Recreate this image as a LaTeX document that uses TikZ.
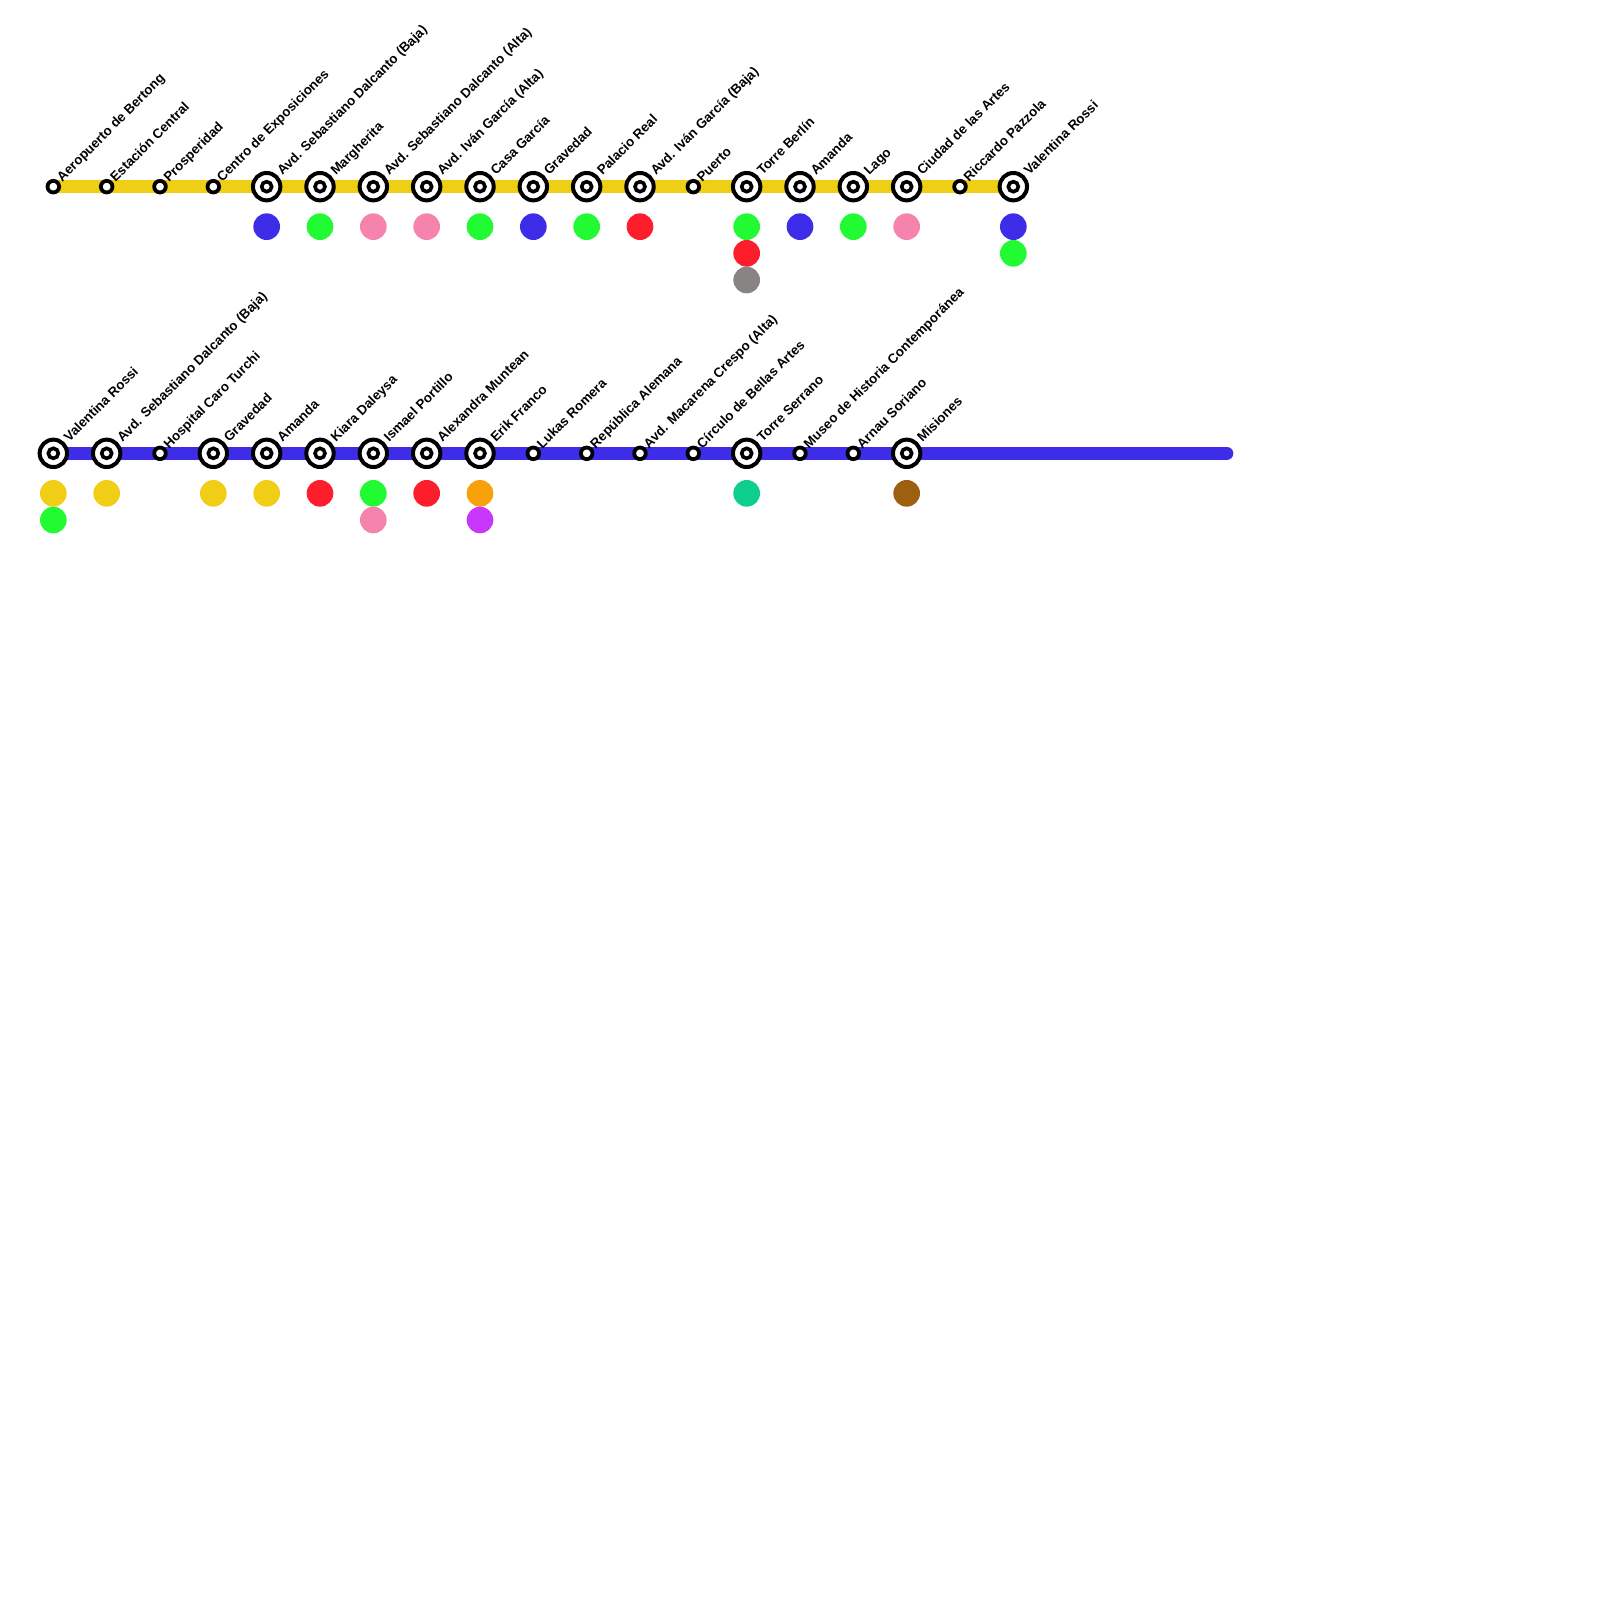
\documentclass[tikz,border=0pt]{standalone}
\usepackage{fontspec}
\setmainfont{Liberation Sans}
\usetikzlibrary{backgrounds}
\definecolor{cyellow}{HTML}{F0CE15}
\definecolor{cblue}{HTML}{3D2DE8}
\definecolor{cgreen}{HTML}{22FB31}
\definecolor{cpink}{HTML}{F683AB}
\definecolor{cred}{HTML}{FD1D2B}
\definecolor{cgray}{HTML}{888484}
\definecolor{cteal}{HTML}{0DCE8D}
\definecolor{corange}{HTML}{F9A10B}
\definecolor{cpurple}{HTML}{C838FB}
\definecolor{cbrown}{HTML}{9C6010}
\tikzset{
  x=1pt,y=-1pt,
  smallstn/.style={circle,draw=black,fill=white,line width=3.8pt,inner sep=0pt,outer sep=0pt,minimum size=11.6pt},
  bigstn/.style={circle,draw=black,fill=white,line width=4pt,inner sep=0pt,outer sep=0pt,minimum size=27.4pt},
  bigcore/.style={circle,draw=black,fill=white,line width=3.6pt,inner sep=0pt,outer sep=0pt,minimum size=10pt},
  stnlabel/.style={rotate=45,anchor=base west,inner sep=0pt,outer sep=0pt,font=\fontsize{13.33pt}{16pt}\selectfont\bfseries,text=black},
  dot/.style={circle,fill=#1,draw=none,inner sep=0pt,outer sep=0pt,minimum size=26.67pt},
  metroline/.style={line width=13.33pt,line cap=round}
}
% #1 prefix, #2 index, #3 y, #4 label, #5 colours
\newcommand{\smallS}[5]{%
  \node[smallstn] (#1#2) at ({53.333*#2},#3) {};
  \node[stnlabel] (#1#2l) at ({53.333*#2+9},{#3-4.3}) {#4};
  \mydots{#1}{#2}{#3}{#5}}
\newcommand{\bigS}[5]{%
  \node[bigstn] (#1#2) at ({53.333*#2},#3) {};
  \node[bigcore] (#1#2c) at ({53.333*#2},#3) {};
  \node[stnlabel] (#1#2l) at ({53.333*#2+16},{#3-10.8}) {#4};
  \mydots{#1}{#2}{#3}{#5}}
\newcommand{\mydots}[4]{%
  \foreach \c [count=\n] in {#4} {
    \node[dot=\c] (#1#2d\n) at ({53.333*#2},{#3+40+26.667*(\n-1)}) {};
  }}
\begin{document}
\begin{tikzpicture}
\useasboundingbox (0,0) rectangle (1600,1600);
\def\ya{186.667}
\def\yb{453.333}
\smallS{a}{1}{\ya}{Aeropuerto de Bertong}{}
\smallS{a}{2}{\ya}{Estación Central}{}
\smallS{a}{3}{\ya}{Prosperidad}{}
\smallS{a}{4}{\ya}{Centro de Exposiciones}{}
\bigS{a}{5}{\ya}{Avd. Sebastiano Dalcanto (Baja)}{cblue}
\bigS{a}{6}{\ya}{Margherita}{cgreen}
\bigS{a}{7}{\ya}{Avd. Sebastiano Dalcanto (Alta)}{cpink}
\bigS{a}{8}{\ya}{Avd. Iván García (Alta)}{cpink}
\bigS{a}{9}{\ya}{Casa García}{cgreen}
\bigS{a}{10}{\ya}{Gravedad}{cblue}
\bigS{a}{11}{\ya}{Palacio Real}{cgreen}
\bigS{a}{12}{\ya}{Avd. Iván García (Baja)}{cred}
\smallS{a}{13}{\ya}{Puerto}{}
\bigS{a}{14}{\ya}{Torre Berlín}{cgreen,cred,cgray}
\bigS{a}{15}{\ya}{Amanda}{cblue}
\bigS{a}{16}{\ya}{Lago}{cgreen}
\bigS{a}{17}{\ya}{Ciudad de las Artes}{cpink}
\smallS{a}{18}{\ya}{Riccardo Pazzola}{}
\bigS{a}{19}{\ya}{Valentina Rossi}{cblue,cgreen}
\bigS{b}{1}{\yb}{Valentina Rossi}{cyellow,cgreen}
\bigS{b}{2}{\yb}{Avd. Sebastiano Dalcanto (Baja)}{cyellow}
\smallS{b}{3}{\yb}{Hospital Caro Turchi}{}
\bigS{b}{4}{\yb}{Gravedad}{cyellow}
\bigS{b}{5}{\yb}{Amanda}{cyellow}
\bigS{b}{6}{\yb}{Kiara Daleysa}{cred}
\bigS{b}{7}{\yb}{Ismael Portillo}{cgreen,cpink}
\bigS{b}{8}{\yb}{Alexandra Muntean}{cred}
\bigS{b}{9}{\yb}{Erik Franco}{corange,cpurple}
\smallS{b}{10}{\yb}{Lukas Romera}{}
\smallS{b}{11}{\yb}{República Alemana}{}
\smallS{b}{12}{\yb}{Avd. Macarena Crespo (Alta)}{}
\smallS{b}{13}{\yb}{Círculo de Bellas Artes}{}
\bigS{b}{14}{\yb}{Torre Serrano}{cteal}
\smallS{b}{15}{\yb}{Museo de Historia Contemporánea}{}
\smallS{b}{16}{\yb}{Arnau Soriano}{}
\bigS{b}{17}{\yb}{Misiones}{cbrown}
\coordinate (bend) at (1226.667,\yb);
\begin{pgfonlayer}{background}
\fill[white] (0,0) rectangle (1600,1600);
\draw[metroline,cyellow] (a1.center) -- (a19.center);
\draw[metroline,cblue] (b1.center) -- (bend);
\end{pgfonlayer}
\end{tikzpicture}
\end{document}
